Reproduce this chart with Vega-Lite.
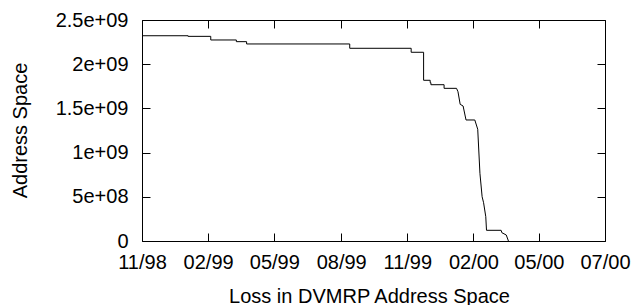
{
  "$schema": "https://vega.github.io/schema/vega-lite/v6.json",
  "width": 463,
  "height": 221,
  "autosize": "none",
  "padding": {"left": 142, "top": 20, "right": 26, "bottom": 64},
  "background": "white",
  "config": {
    "font": "Liberation Sans",
    "view": {"stroke": "black", "strokeWidth": 1},
    "axis": {
      "domain": false,
      "tickColor": "black",
      "tickWidth": 1,
      "labelColor": "black",
      "titleColor": "black",
      "labelFont": "Liberation Sans",
      "titleFont": "Liberation Sans",
      "labelFontSize": 20,
      "titleFontSize": 20,
      "titleFontWeight": "normal",
      "grid": false,
      "tickSize": 8,
      "offset": -8,
      "labelOverlap": false,
      "labelFlush": false,
      "labelBound": false
    }
  },
  "data": {
    "values": [
      {"i": 1, "date": "1998-11-06", "space": 2322000000},
      {"i": 2, "date": "1999-01-08", "space": 2322000000},
      {"i": 3, "date": "1999-01-08", "space": 2315000000},
      {"i": 4, "date": "1999-02-08", "space": 2315000000},
      {"i": 5, "date": "1999-02-08", "space": 2274000000},
      {"i": 6, "date": "1999-03-15", "space": 2274000000},
      {"i": 7, "date": "1999-03-15", "space": 2255000000},
      {"i": 8, "date": "1999-03-29", "space": 2255000000},
      {"i": 9, "date": "1999-03-29", "space": 2229000000},
      {"i": 10, "date": "1999-08-17", "space": 2229000000},
      {"i": 11, "date": "1999-08-17", "space": 2180000000},
      {"i": 12, "date": "1999-11-09", "space": 2180000000},
      {"i": 13, "date": "1999-11-09", "space": 2135000000},
      {"i": 14, "date": "1999-11-26", "space": 2135000000},
      {"i": 15, "date": "1999-11-26", "space": 1818000000},
      {"i": 16, "date": "1999-12-05", "space": 1818000000},
      {"i": 17, "date": "1999-12-05", "space": 1791000000},
      {"i": 18, "date": "1999-12-06", "space": 1791000000},
      {"i": 19, "date": "1999-12-06", "space": 1768000000},
      {"i": 20, "date": "1999-12-24", "space": 1768000000},
      {"i": 21, "date": "1999-12-24", "space": 1727000000},
      {"i": 22, "date": "2000-01-10", "space": 1727000000},
      {"i": 23, "date": "2000-01-12", "space": 1689000000},
      {"i": 24, "date": "2000-01-15", "space": 1546000000},
      {"i": 25, "date": "2000-01-19", "space": 1527000000},
      {"i": 26, "date": "2000-01-23", "space": 1369000000},
      {"i": 27, "date": "2000-02-04", "space": 1369000000},
      {"i": 28, "date": "2000-02-08", "space": 1264000000},
      {"i": 29, "date": "2000-02-11", "space": 766000000},
      {"i": 30, "date": "2000-02-14", "space": 501000000},
      {"i": 31, "date": "2000-02-16", "space": 433000000},
      {"i": 32, "date": "2000-02-19", "space": 275000000},
      {"i": 33, "date": "2000-02-20", "space": 121000000},
      {"i": 34, "date": "2000-03-11", "space": 121000000},
      {"i": 35, "date": "2000-03-12", "space": 94000000},
      {"i": 36, "date": "2000-03-18", "space": 68000000},
      {"i": 37, "date": "2000-03-21", "space": 0}
    ]
  },
  "layer": [
    {
      "mark": {"type": "line", "color": "black", "strokeWidth": 1, "clip": true},
      "encoding": {
        "x": {
          "field": "date",
          "type": "temporal",
          "scale": {
            "type": "utc",
            "domain": [
              {"year": 1998, "month": 11, "date": 6, "utc": true},
              {"year": 2000, "month": 7, "date": 31, "utc": true}
            ]
          },
          "axis": {
            "orient": "bottom",
            "labelExpr": "utcFormat(datum.value, '%m/%y')",
            "values": [
              {"year": 1998, "month": 11, "date": 6, "utc": true},
              {"year": 1999, "month": 2, "date": 4, "hours": 10, "utc": true},
              {"year": 1999, "month": 5, "date": 5, "hours": 21, "utc": true},
              {"year": 1999, "month": 8, "date": 5, "hours": 7, "utc": true},
              {"year": 1999, "month": 11, "date": 3, "hours": 17, "utc": true},
              {"year": 2000, "month": 2, "date": 2, "hours": 3, "utc": true},
              {"year": 2000, "month": 5, "date": 1, "hours": 14, "utc": true},
              {"year": 2000, "month": 7, "date": 31, "utc": true}
            ],
            "labelBaseline": "alphabetic",
            "labelPadding": 27,
            "title": "Loss in DVMRP Address Space",
            "titleX": 227,
            "titleY": 69,
            "titleAlign": "center",
            "titleBaseline": "alphabetic"
          }
        },
        "y": {
          "field": "space",
          "type": "quantitative",
          "scale": {"domain": [0, 2500000000], "nice": false, "zero": true},
          "axis": {
            "orient": "left",
            "values": [0, 500000000, 1000000000, 1500000000, 2000000000, 2500000000],
            "labelExpr": "datum.value == 0 ? '0' : (datum.value == 500000000 ? '5e+08' : (datum.value == 1000000000 ? '1e+09' : (datum.value == 1500000000 ? '1.5e+09' : (datum.value == 2000000000 ? '2e+09' : '2.5e+09'))))",
            "labelBaseline": "middle",
            "labelPadding": 14,
            "title": "Address Space",
            "titleX": -124,
            "titleY": 110,
            "titleAngle": -90,
            "titleAlign": "center",
            "titleBaseline": "alphabetic"
          }
        },
        "order": {"field": "i", "type": "quantitative"}
      }
    },
    {
      "mark": {"type": "line", "strokeOpacity": 0},
      "encoding": {
        "x": {
          "field": "date",
          "type": "temporal",
          "axis": {
            "orient": "top",
            "labels": false,
            "title": null,
            "values": [
              {"year": 1998, "month": 11, "date": 6, "utc": true},
              {"year": 1999, "month": 2, "date": 4, "hours": 10, "utc": true},
              {"year": 1999, "month": 5, "date": 5, "hours": 21, "utc": true},
              {"year": 1999, "month": 8, "date": 5, "hours": 7, "utc": true},
              {"year": 1999, "month": 11, "date": 3, "hours": 17, "utc": true},
              {"year": 2000, "month": 2, "date": 2, "hours": 3, "utc": true},
              {"year": 2000, "month": 5, "date": 1, "hours": 14, "utc": true},
              {"year": 2000, "month": 7, "date": 31, "utc": true}
            ]
          }
        },
        "y": {
          "field": "space",
          "type": "quantitative",
          "axis": {
            "orient": "right",
            "labels": false,
            "title": null,
            "values": [0, 500000000, 1000000000, 1500000000, 2000000000, 2500000000]
          }
        },
        "order": {"field": "i", "type": "quantitative"}
      }
    }
  ],
  "resolve": {"axis": {"x": "independent", "y": "independent"}}
}
